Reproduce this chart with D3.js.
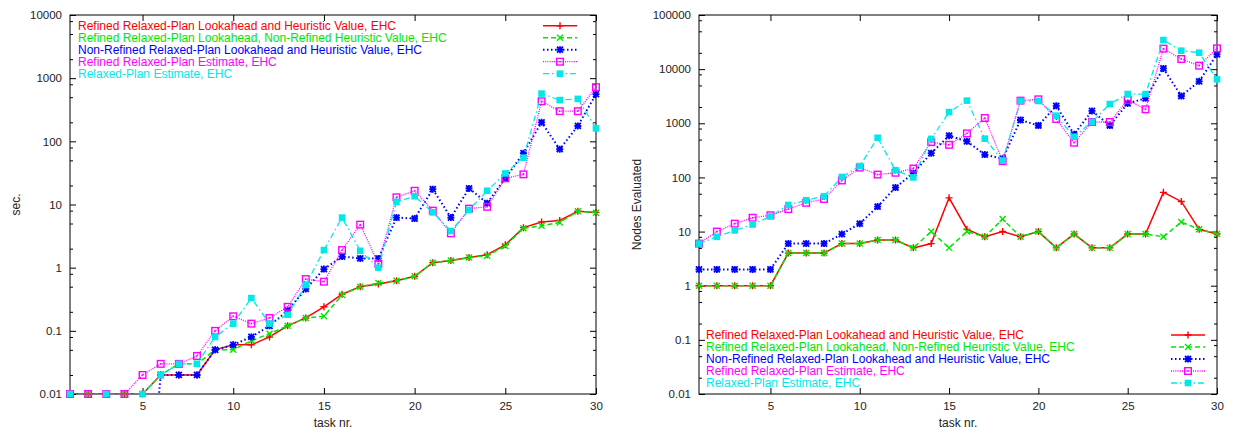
<!DOCTYPE html>
<html>
<head>
<meta charset="utf-8">
<script src="https://cdn.jsdelivr.net/npm/d3@7"></script>
<style>
body { margin: 0; background: #fff; }
svg text { font-family: "Liberation Sans", Arial, Helvetica, sans-serif; }
</style>
</head>
<body>
<svg id="chart" width="1233" height="434"></svg>
<script>
/* task numbers on the x axis */
var tasks = [1, 2, 3, 4, 5, 6, 7, 8, 9, 10, 11, 12, 13, 14, 15, 16, 17, 18, 19, 20, 21, 22, 23, 24, 25, 26, 27, 28, 29, 30];

var seriesNames = [
	"Refined Relaxed-Plan Lookahead and Heuristic Value, EHC",
	"Refined Relaxed-Plan Lookahead, Non-Refined Heuristic Value, EHC",
	"Non-Refined Relaxed-Plan Lookahead and Heuristic Value, EHC",
	"Refined Relaxed-Plan Estimate, EHC",
	"Relaxed-Plan Estimate, EHC"
];

/* left chart: runtime in seconds (values below 0.01 fall off the chart) */
var secRefined = [0.01, 0.01, 0.01, 0.01, 0.01, 0.02, 0.02, 0.02, 0.05, 0.06, 0.06, 0.08, 0.12, 0.16, 0.24, 0.38, 0.5, 0.55, 0.62, 0.73, 1.2, 1.3, 1.45, 1.6, 2.3, 4.3, 5.3, 5.6, 7.8, 7.5];
var secRefinedLookahead = [0.01, 0.01, 0.01, 0.01, 0.01, 0.02, 0.03, 0.03, 0.05, 0.05, 0.07, 0.09, 0.12, 0.16, 0.17, 0.37, 0.5, 0.57, 0.62, 0.73, 1.2, 1.3, 1.45, 1.55, 2.2, 4.2, 4.6, 5.2, 7.8, 7.4];
var secNonRefined = [0.00001, 0.00001, 0.00001, 0.00001, 0.00001, 0.02, 0.02, 0.02, 0.05, 0.06, 0.08, 0.12, 0.21, 0.46, 0.95, 1.5, 1.4, 1.4, 6.2, 6.0, 17.5, 6.2, 18, 10.5, 26, 65, 200, 75, 175, 560];
var secRefinedEstimate = [0.01, 0.01, 0.01, 0.01, 0.02, 0.03, 0.03, 0.04, 0.1, 0.17, 0.13, 0.16, 0.24, 0.66, 0.6, 1.9, 4.8, 1.15, 13, 16.5, 8, 3.5, 8.6, 9.2, 26, 30, 430, 300, 300, 720];
var secEstimate = [0.01, 0.00001, 0.01, 0.00001, 0.01, 0.02, 0.03, 0.03, 0.08, 0.13, 0.33, 0.13, 0.18, 0.53, 1.9, 6.2, 1.85, 1.0, 11, 13.5, 7.5, 3.8, 8.2, 16.5, 31, 55, 570, 450, 470, 160];

/* right chart: nodes evaluated */
var nodesRefined = [1, 1, 1, 1, 1, 4, 4, 4, 6, 6, 7, 7, 5, 6, 42, 11, 8, 10, 8, 10, 5, 9, 5, 5, 9, 9, 53, 36, 11, 9];
var nodesRefinedLookahead = [1, 1, 1, 1, 1, 4, 4, 4, 6, 6, 7, 7, 5, 10, 5, 10, 8, 17, 8, 10, 5, 9, 5, 5, 9, 9, 8, 15, 11, 9];
var nodesNonRefined = [2, 2, 2, 2, 2, 6, 6, 6, 9, 14, 29, 65, 120, 280, 590, 465, 264, 222, 1150, 910, 2100, 625, 1690, 910, 2330, 2890, 10300, 3190, 5950, 18800];
var nodesRefinedEstimate = [6, 10, 14, 18, 20, 26, 34, 40, 88, 152, 113, 122, 146, 450, 400, 650, 1250, 200, 2620, 2770, 1200, 438, 1057, 1057, 2690, 1810, 23900, 15400, 11600, 24200];
var nodesEstimate = [6, 8, 10.5, 13.5, 19, 31, 38, 45, 102, 162, 540, 136, 100, 515, 1610, 2620, 520, 204, 2580, 2580, 1380, 565, 1057, 2270, 3470, 3470, 34500, 21900, 20100, 6500];

/* tick labels */
var taskTicks = [5, 10, 15, 20, 25, 30];
var secTicks = [0.01, 0.1, 1, 10, 100, 1000, 10000];
var nodesTicks = [0.01, 0.1, 1, 10, 100, 1000, 10000, 100000];
var minorSteps = [2, 5, 8];

/* gnuplot-achtige stijlen per lijn */
var colors = ["#ff0000", "#00e600", "#0000ff", "#ff00ff", "#00e8e8"];
var dashes = [null, "5,3", "1.5,2.5", "1,1.2", "6,3,1.5,3"];
var widths = [1.5, 1.5, 2, 1.3, 1.3];
var markers = ["plus", "cross", "star", "box", "fbox"];

var svg = d3.select("#chart");

function drawMarker(g, kind, color) {
	if (kind == "plus") {
		g.append("path").attr("d", "M-3.5,0H3.5M0,-3.5V3.5")
			.attr("stroke", color).attr("stroke-width", 1.4).attr("fill", "none");
	} else if (kind == "cross") {
		g.append("path").attr("d", "M-3,-3L3,3M-3,3L3,-3")
			.attr("stroke", color).attr("stroke-width", 1.4).attr("fill", "none");
	} else if (kind == "star") {
		g.append("path").attr("d", "M-3.5,0H3.5M0,-3.5V3.5M-3,-3L3,3M-3,3L3,-3")
			.attr("stroke", color).attr("stroke-width", 1.8).attr("fill", "none");
	} else if (kind == "box") {
		g.append("rect").attr("x", -3.3).attr("y", -3.3).attr("width", 6.6).attr("height", 6.6)
			.attr("stroke", color).attr("stroke-width", 1.4).attr("fill", "none");
		g.append("rect").attr("x", -0.8).attr("y", -0.8).attr("width", 1.6).attr("height", 1.6)
			.attr("fill", color);
	} else {
		g.append("rect").attr("x", -3.3).attr("y", -3.3).attr("width", 6.6).attr("height", 6.6)
			.attr("fill", color);
	}
}

function drawPanel(p) {
	var x = d3.scaleLinear().domain([1, 30]).range([p.left, p.right]);
	var y = d3.scaleLog()
		.domain([p.yTicks[0], p.yTicks[p.yTicks.length - 1]])
		.range([p.bottom, p.top]);

	var minor = [];
	p.yTicks.slice(0, -1).forEach(function(t) {
		minorSteps.forEach(function(m) { minor.push(t * m); });
	});

	svg.append("clipPath").attr("id", "clip-" + p.id)
		.append("rect")
		.attr("x", p.left).attr("y", p.top)
		.attr("width", p.right - p.left).attr("height", p.bottom - p.top);

	var g = svg.append("g");

	/* assen, ticks naar binnen en gespiegeld */
	function style(a) {
		a.select(".domain").remove();
		a.attr("font-size", "11.5px").attr("font-family", null);
		a.selectAll("text").attr("fill", "#222");
	}

	g.append("g").attr("transform", "translate(" + p.left + ",0)")
		.call(d3.axisLeft(y).tickValues(p.yTicks).tickSize(-6).tickPadding(8)
			.tickFormat(function(d) { return String(d); }))
		.call(style);
	g.append("g").attr("transform", "translate(" + p.left + ",0)")
		.call(d3.axisLeft(y).tickValues(minor).tickSize(-3).tickFormat(""))
		.call(style);
	g.append("g").attr("transform", "translate(" + p.right + ",0)")
		.call(d3.axisRight(y).tickValues(p.yTicks).tickSize(-6).tickFormat(""))
		.call(style);
	g.append("g").attr("transform", "translate(" + p.right + ",0)")
		.call(d3.axisRight(y).tickValues(minor).tickSize(-3).tickFormat(""))
		.call(style);
	g.append("g").attr("transform", "translate(0," + p.bottom + ")")
		.call(d3.axisBottom(x).tickValues(taskTicks).tickSize(-6).tickPadding(8))
		.call(style);
	g.append("g").attr("transform", "translate(0," + p.top + ")")
		.call(d3.axisTop(x).tickValues(taskTicks).tickSize(-6).tickFormat(""))
		.call(style);

	g.append("rect")
		.attr("x", p.left).attr("y", p.top)
		.attr("width", p.right - p.left).attr("height", p.bottom - p.top)
		.attr("fill", "none").attr("stroke", "#000").attr("stroke-width", 1);

	/* as-titels */
	g.append("text")
		.attr("x", (p.left + p.right) / 2).attr("y", 427)
		.attr("text-anchor", "middle").attr("font-size", "12px").attr("fill", "#222")
		.text("task nr.");
	g.append("text")
		.attr("transform", "translate(" + p.ylabelX + "," + ((p.top + p.bottom) / 2) + ") rotate(-90)")
		.attr("text-anchor", "middle").attr("font-size", "12px").attr("fill", "#222")
		.text(p.ylabel);

	var line = d3.line()
		.x(function(d) { return x(d.t); })
		.y(function(d) { return y(d.v); });

	var lo = p.yTicks[0] * 0.999;

	p.series.forEach(function(values, i) {
		var pts = tasks.map(function(t, j) { return {t: t, v: values[j]}; });

		g.append("path")
			.datum(pts)
			.attr("clip-path", "url(#clip-" + p.id + ")")
			.attr("d", line)
			.attr("fill", "none")
			.attr("stroke", colors[i])
			.attr("stroke-width", widths[i])
			.attr("stroke-dasharray", dashes[i]);

		g.selectAll(".pt" + i)
			.data(pts.filter(function(d) { return d.v >= lo; }))
			.enter()
			.append("g")
			.attr("class", "pt" + i)
			.attr("transform", function(d) { return "translate(" + x(d.t) + "," + y(d.v) + ")"; })
			.each(function() { drawMarker(d3.select(this), markers[i], colors[i]); });

		/* legenda */
		var ly = p.legendY + i * 12;
		g.append("text")
			.attr("x", p.legendX).attr("y", ly + 4)
			.attr("font-size", "12px").attr("fill", colors[i])
			.text(seriesNames[i]);
		g.append("line")
			.attr("x1", p.sampleX1).attr("x2", p.sampleX2)
			.attr("y1", ly).attr("y2", ly)
			.attr("stroke", colors[i])
			.attr("stroke-width", widths[i])
			.attr("stroke-dasharray", dashes[i]);
		drawMarker(g.append("g").attr("transform", "translate(" + ((p.sampleX1 + p.sampleX2) / 2) + "," + ly + ")"),
			markers[i], colors[i]);
	});
}

drawPanel({
	id: "sec", left: 70, right: 596, top: 15, bottom: 394,
	yTicks: secTicks, ylabel: "sec.", ylabelX: 19.5,
	legendX: 78, legendY: 25.7, sampleX1: 543, sampleX2: 577,
	series: [secRefined, secRefinedLookahead, secNonRefined, secRefinedEstimate, secEstimate]
});

drawPanel({
	id: "nodes", left: 699, right: 1217, top: 15, bottom: 394,
	yTicks: nodesTicks, ylabel: "Nodes Evaluated", ylabelX: 640.5,
	legendX: 706, legendY: 335, sampleX1: 1171, sampleX2: 1205,
	series: [nodesRefined, nodesRefinedLookahead, nodesNonRefined, nodesRefinedEstimate, nodesEstimate]
});
</script>
</body>
</html>
